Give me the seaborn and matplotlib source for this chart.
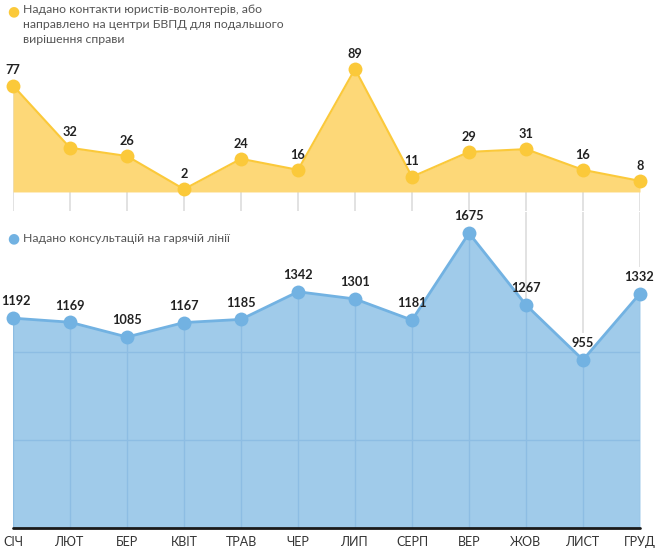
import numpy as np
import pandas as pd
import matplotlib
matplotlib.use("Agg")
import matplotlib.pyplot as plt
import seaborn as sns

# data
months = ["СІЧ", "ЛЮТ", "БЕР", "КВІТ", "ТРАВ", "ЧЕР", "ЛИП", "СЕРП", "ВЕР", "ЖОВ", "ЛИСТ", "ГРУД"]
volunteer_contacts = [77, 32, 26, 2, 24, 16, 89, 11, 29, 31, 16, 8]
hotline_consults = [1192, 1169, 1085, 1167, 1185, 1342, 1301, 1181, 1675, 1267, 955, 1332]
hotline_gridlines = [500, 1000]

top_label = "Надано контакти юристів-волонтерів, або\nнаправлено на центри БВПД для подальшого\nвирішення справи"
bottom_label = "Надано консультацій на гарячій лінії"

df = pd.DataFrame({"month": months, "i": range(len(months)),
                   "contacts": volunteer_contacts, "consults": hotline_consults})

sns.set_theme(style="white")
plt.rcParams["font.family"] = ["Lato", "DejaVu Sans"]

YEL_FILL = "#fdd878"
YEL = "#fbc93a"
BLUE_FILL = "#a0cbea"
BLUE = "#72b2e2"
GREY = "#dddddd"

W, H = 655, 549
fig = plt.figure(figsize=(W / 100, H / 100), dpi=100)

def box(x0, y0, x1, y1):
    return [x0 / W, 1 - y1 / H, (x1 - x0) / W, (y1 - y0) / H]

ax1 = fig.add_axes(box(13, 60, 640, 212))
ax2 = fig.add_axes(box(13, 212, 640, 528))

for ax in (ax1, ax2):
    ax.set_xlim(0, len(months) - 1)
    for s in ax.spines.values():
        s.set_visible(False)
    ax.set_xticks([])
    ax.set_yticks([])
    ax.patch.set_alpha(0)

# ---- top panel: volunteer contacts
ax1.set_ylim(-14.5, 95.5)
ax1.vlines(df["i"], -13.5, df["contacts"], color=GREY, lw=1.2, zorder=0)
ax1.fill_between(df["i"], 0, df["contacts"], color=YEL_FILL, lw=0, zorder=1)
sns.lineplot(data=df, x="i", y="contacts", ax=ax1, color=YEL, lw=1.5,
             marker="o", markersize=10, markeredgewidth=0, zorder=3, clip_on=False)
for x, v in zip(df["i"], df["contacts"]):
    ax1.annotate(str(v), (x, v), xytext=(0, 11), textcoords="offset points",
                 ha="center", va="center", fontsize=9.2, fontweight="bold",
                 color="#222222", zorder=5)
ax1.set_xlabel("")
ax1.set_ylabel("")

# ---- bottom panel: hotline consultations
ax2.set_ylim(0, 1795)
poly = ax2.fill_between(df["i"], 0, df["consults"], color=BLUE_FILL, lw=0, zorder=1)
grid_lines = []
for g in hotline_gridlines:
    grid_lines.append(ax2.axhline(g, color="#8dbde3", lw=1, zorder=2))
for x in df["i"]:
    grid_lines.append(ax2.axvline(x, color="#8dbde3", lw=1, zorder=2))
for ln in grid_lines:
    ln.set_clip_path(poly.get_paths()[0], ax2.transData)

# long drop lines for the last three months, from the top panel down
long_drop = {"ЖОВ": 0, "ЛИСТ": 150, "ГРУД": 150}
for m, off in long_drop.items():
    k = months.index(m)
    ax2.vlines(k, hotline_consults[k] + off, 1795, color=GREY, lw=1.2, zorder=0)

sns.lineplot(data=df, x="i", y="consults", ax=ax2, color=BLUE, lw=2,
             marker="o", markersize=10, markeredgewidth=0, zorder=3, clip_on=False)
n = len(months)
for x, v in zip(df["i"], df["consults"]):
    dx = 2 if x == 0 else (-1 if x == n - 1 else 0)  # keep edge labels inside
    ax2.annotate(str(v), (x, v), xytext=(dx, 12), textcoords="offset points",
                 ha="center", va="center", fontsize=9.2, fontweight="bold",
                 color="#222222", zorder=5)
ax2.axhline(0, color="#1a1a1a", lw=2, zorder=4, clip_on=False)
ax2.set_xlabel("")
ax2.set_ylabel("")

# month labels
ax2.set_xticks(df["i"])
ax2.set_xticklabels(months, fontsize=9, color="#333333")
ax2.tick_params(axis="x", length=0, pad=6)

# legend-like captions
fig.text(13 / W, 1 - 11 / H, "●", color=YEL, fontsize=10, ha="center", va="center",
         family="DejaVu Sans")
fig.text(23 / W, 1 - 4 / H, top_label, color="#555555", fontsize=8.8,
         ha="left", va="top", linespacing=1.45)
fig.text(13 / W, 1 - 238 / H, "●", color=BLUE, fontsize=10, ha="center", va="center",
         family="DejaVu Sans")
fig.text(23 / W, 1 - 238 / H, bottom_label, color="#555555", fontsize=8.8,
         ha="left", va="center")

fig.savefig("out.png", dpi=100, facecolor="white")
